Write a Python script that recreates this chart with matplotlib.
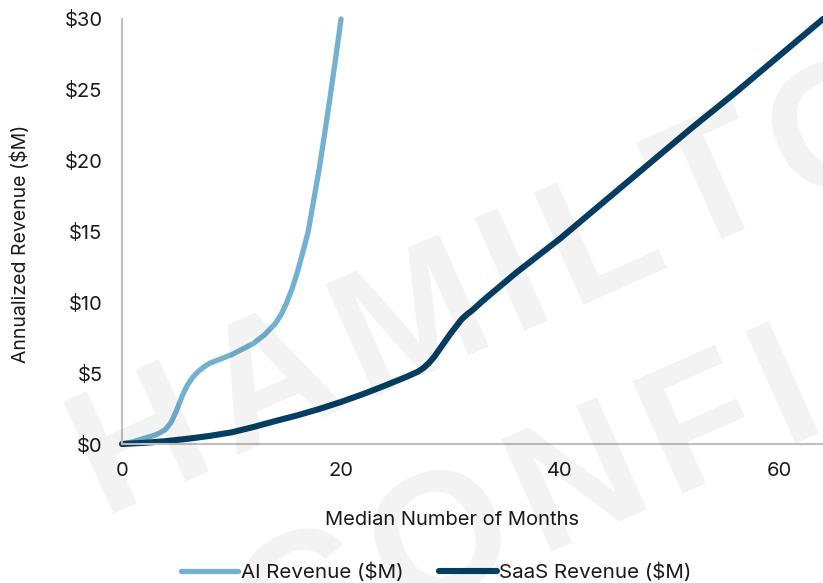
import matplotlib
matplotlib.use("Agg")
import numpy as np
import matplotlib.pyplot as plt
from matplotlib.ticker import FuncFormatter
from matplotlib.font_manager import FontProperties, findfont, get_font

plt.rcParams['font.family'] = ['Inter', 'DejaVu Sans']

# revenue by month, $M
ai_months = [0, 1, 2, 3, 3.5, 4, 4.5, 5, 5.5, 6, 6.5, 7, 7.5, 8, 9, 10, 11, 12, 13,
             14, 14.5, 15, 15.5, 16, 16.5, 17, 17.5, 18, 18.5, 19, 19.5, 20]
ai_rev = [0, 0.15, 0.4, 0.62, 0.8, 1.05, 1.55, 2.4, 3.4, 4.2, 4.75, 5.15, 5.45, 5.7,
          6.0, 6.3, 6.7, 7.1, 7.7, 8.5, 9.1, 9.9, 10.9, 12.1, 13.5, 15.0, 17.2, 19.4,
          21.9, 24.5, 27.2, 30.0]

saas_months = [0, 2, 4, 6, 8, 10, 12, 14, 16, 18, 20, 22, 24, 26, 27, 27.5, 28, 28.5,
               29, 29.5, 30, 30.5, 31, 31.5, 32, 33, 34, 36, 38, 40, 44, 48, 52, 56,
               60, 64]
saas_rev = [0, 0.08, 0.2, 0.37, 0.57, 0.82, 1.2, 1.62, 2.02, 2.47, 2.97, 3.52, 4.12,
            4.75, 5.1, 5.35, 5.7, 6.15, 6.7, 7.25, 7.8, 8.3, 8.8, 9.15, 9.45, 10.15,
            10.8, 12.1, 13.3, 14.5, 17.1, 19.7, 22.3, 24.8, 27.4, 30.0]

x_ticks = [0, 20, 40, 60]
y_ticks = [0, 5, 10, 15, 20, 25, 30]

W, H = 823, 583
fig = plt.figure(figsize=(W/100, H/100), dpi=100)
ax = fig.add_axes([122/W, 1-444/H, 701/W, 425/H])

l1, = ax.plot(ai_months, ai_rev, color='#72b1cf', lw=3.8,
              solid_capstyle='round', solid_joinstyle='round')
l2, = ax.plot(saas_months, saas_rev, color='#053e62', lw=4.4,
              solid_capstyle='round', solid_joinstyle='round')

ax.set_xlim(0, 64)
ax.set_ylim(0, 30)
ax.set_xticks(x_ticks)
ax.set_yticks(y_ticks)
ax.yaxis.set_major_formatter(FuncFormatter(lambda v, p: "$%d" % v))
ax.tick_params(length=0, labelsize=14.5, colors='#1a1a1a')
ax.tick_params(axis='y', pad=14)
ax.tick_params(axis='x', pad=13)
for s in ['top', 'right']:
    ax.spines[s].set_visible(False)
for s in ['left', 'bottom']:
    ax.spines[s].set_color('#bfbfbf')
    ax.spines[s].set_linewidth(1.5)
for l in [l1, l2]:
    l.set_clip_on(False)

ax.set_xlabel("Median Number of Months", fontsize=14.5, color='#1a1a1a')
ax.xaxis.set_label_coords((452-122)/701, -(520-444)/425)
ax.xaxis.label.set_va('center')
ax.set_ylabel("Annualized Revenue ($M)", fontsize=14, color='#1a1a1a')
ax.yaxis.set_label_coords(-(122-20)/701, (444-244)/425)
ax.yaxis.label.set_va('center')

fig.legend([l1, l2], ["AI Revenue ($M)", "SaaS Revenue ($M)"], ncol=2,
           loc='center', bbox_to_anchor=(436/W, 1-572/H), frameon=False,
           fontsize=14.8, handlelength=2.8, handletextpad=0.1, columnspacing=1.75,
           labelcolor='#1a1a1a')

# watermark: spaced-out bold caps, rotated, drawn faintly over the plot
wm_size = 128
wm_track = 15  # extra px between letters
wm_angle = np.deg2rad(24)
wm_prop = FontProperties(family='Liberation Sans', weight='bold', size=wm_size)
wm_font = get_font(findfont(wm_prop))
wm_font.set_size(wm_size, 100)
u = np.array([np.cos(wm_angle), np.sin(wm_angle)])  # baseline direction, y up


def watermark(word, x0, y0):
    pos = np.array([x0, H - y0], dtype=float)
    for ch in word:
        if pos[0] >= W:
            break  # rest of the word runs off the page
        fig.text(pos[0]/W, pos[1]/H, ch, fontproperties=wm_prop, color='black',
                 alpha=0.05, rotation=24, rotation_mode='anchor', ha='left',
                 va='baseline', zorder=10)
        adv = wm_font.load_char(ord(ch)).linearHoriAdvance / 65536
        pos = pos + (adv + wm_track) * u


watermark("HAMILTON", 101, 514)
watermark("CONFIDENTIAL", 268, 673)

fig.savefig("out.png", dpi=100)
